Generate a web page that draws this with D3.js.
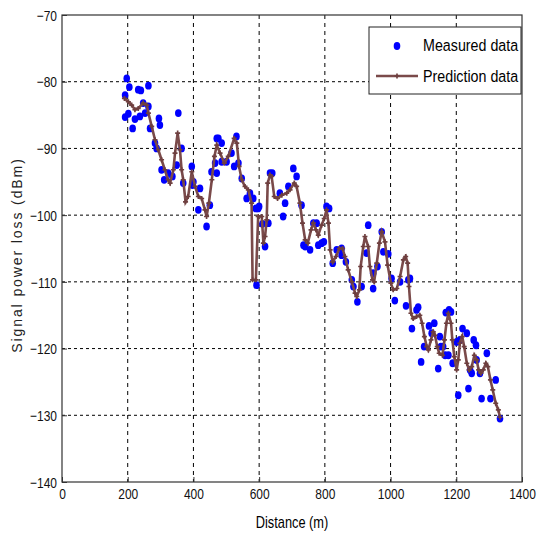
<!DOCTYPE html>
<html>
<head>
<meta charset="utf-8">
<script src="https://d3js.org/d3.v7.min.js"></script>
<style>
body { margin: 0; background: #fff; }
.tick text, .lbl { font-family: "Liberation Sans", Arial, sans-serif; }
</style>
</head>
<body>
<div id="mainer"></div>
<script>
let width = 541;
let height = 542;

let xTicks = [0, 200, 400, 600, 800, 1000, 1200, 1400];
let yTicks = [-70, -80, -90, -100, -110, -120, -130, -140];

let predDist = [190,202,212,222,232,247,258,263,273,283,293,303,313,323,329,339,344,352,359,364,369,376,384,395,405,415,425,435,440,447,456,464,471,481,494,506,524,532,539,547,557,567,577,580,590,597,608,613,618,623,626,633,638,646,656,669,684,694,707,714,724,732,740,748,758,765,773,780,790,798,805,811,816,824,834,844,854,861,871,882,892,897,905,909,917,922,932,937,945,950,958,966,973,983,991,1001,1008,1019,1029,1039,1046,1052,1056,1062,1069,1079,1089,1096,1103,1110,1115,1123,1130,1135,1142,1148,1158,1164,1170,1176,1184,1188,1194,1201,1206,1211,1218,1224,1232,1239,1247,1255,1262,1268,1275,1282,1290,1296,1304,1311,1320,1328,1333];
let predVal = [-82.5,-83.0,-83.5,-84.2,-84.0,-83.2,-83.5,-84.7,-86.7,-88.7,-90.2,-91.7,-93.2,-94.7,-95.2,-93.2,-90.7,-87.7,-90.2,-93.2,-94.7,-98.0,-97.2,-93.5,-95.7,-97.2,-97.5,-99.2,-100.2,-98.2,-94.7,-91.2,-89.5,-90.7,-92.2,-91.2,-88.5,-89.2,-92.7,-94.7,-95.7,-96.2,-98.2,-109.7,-109.7,-100.2,-100.2,-104.2,-103.2,-100.7,-95.2,-94.0,-94.2,-97.2,-97.5,-97.0,-96.7,-96.2,-95.2,-95.7,-98.2,-101.2,-103.7,-104.2,-102.2,-101.2,-102.2,-103.0,-101.5,-100.5,-99.2,-101.2,-105.2,-107.0,-106.2,-105.0,-105.0,-106.2,-108.2,-110.0,-111.7,-112.2,-111.2,-107.7,-104.7,-103.2,-104.7,-107.7,-109.7,-110.0,-107.2,-104.2,-102.5,-104.0,-107.5,-110.2,-111.2,-111.0,-109.2,-106.7,-106.2,-107.2,-110.7,-114.7,-115.5,-115.2,-115.0,-116.2,-118.2,-119.7,-120.2,-118.7,-117.5,-118.0,-119.7,-120.7,-121.0,-118.7,-116.2,-114.7,-116.2,-118.7,-121.2,-123.2,-121.7,-119.2,-118.2,-119.7,-122.2,-123.2,-122.7,-121.0,-121.7,-123.2,-123.7,-123.2,-122.2,-122.7,-124.7,-126.2,-128.2,-129.2,-130.3];

let measDist = [192,197,205,192,202,215,222,232,240,237,247,253,263,263,268,283,288,295,298,303,311,323,336,349,354,364,369,395,397,400,415,420,440,450,455,466,471,471,476,486,486,501,516,524,531,537,547,562,572,582,590,592,597,600,610,618,628,633,640,663,673,679,689,704,714,729,735,740,755,765,775,780,790,797,805,813,824,836,851,851,864,882,887,899,912,927,932,947,947,960,973,978,993,1003,1013,1029,1047,1054,1059,1065,1079,1084,1093,1102,1117,1125,1133,1145,1150,1153,1160,1166,1168,1176,1178,1184,1189,1201,1206,1211,1219,1232,1237,1242,1247,1253,1260,1262,1272,1277,1293,1304,1320,1333];
let measVal = [-82.0,-79.5,-80.8,-85.3,-84.8,-87.0,-85.6,-81.2,-81.3,-85.2,-83.2,-84.7,-80.6,-83.7,-87.0,-89.2,-90.0,-85.5,-86.5,-93.2,-94.7,-93.7,-94.2,-92.5,-84.7,-90.0,-95.2,-92.7,-95.5,-95.0,-99.2,-96.0,-101.7,-98.5,-93.5,-92.2,-88.5,-93.7,-88.5,-89.2,-92.0,-92.0,-90.7,-92.7,-88.2,-92.2,-94.5,-97.5,-96.7,-97.5,-99.0,-110.5,-99.0,-98.7,-101.3,-104.7,-101.2,-93.7,-93.7,-96.7,-100.2,-98.2,-95.7,-93.0,-94.2,-98.5,-104.5,-104.7,-105.2,-101.2,-101.2,-104.5,-104.2,-104.0,-98.7,-99.0,-107.2,-105.2,-105.0,-106.0,-107.0,-109.7,-110.7,-113.0,-110.7,-105.7,-101.5,-108.7,-111.0,-107.7,-102.5,-105.5,-105.8,-109.5,-112.8,-110.0,-113.6,-109.7,-109.5,-117.0,-114.2,-113.8,-122.0,-119.7,-116.6,-117.7,-116.2,-123.0,-118.2,-119.7,-119.7,-121.0,-114.6,-121.0,-114.2,-114.5,-122.2,-119.0,-127.0,-118.7,-117.0,-117.7,-126.0,-123.2,-123.7,-118.7,-119.5,-121.7,-123.7,-127.5,-120.7,-127.5,-124.7,-130.5];

let mLeft = 62, mRight = 522, mTop = 15, mBottom = 482;
let narrow = 0.8;

let svg = d3.select("#mainer")
  .append("svg")
  .attr("width", width)
  .attr("height", height)
  .style("background", "#fff");

let xScale = d3.scaleLinear().domain([0, 1400]).range([mLeft, mRight]);
let yScale = d3.scaleLinear().domain([-140, -70]).range([mBottom, mTop]);

// grid
svg.append("g").selectAll("line")
  .data(xTicks.slice(1, -1))
  .enter().append("line")
  .attr("x1", d => xScale(d)).attr("x2", d => xScale(d))
  .attr("y1", mTop).attr("y2", mBottom)
  .attr("stroke", "#000").attr("stroke-width", 1)
  .attr("stroke-dasharray", "4,4");
svg.append("g").selectAll("line")
  .data(yTicks.slice(1, -1))
  .enter().append("line")
  .attr("x1", mLeft).attr("x2", mRight)
  .attr("y1", d => yScale(d)).attr("y2", d => yScale(d))
  .attr("stroke", "#000").attr("stroke-width", 1)
  .attr("stroke-dasharray", "3,3");

// axes
let xAxis = d3.axisBottom(xScale).tickValues(xTicks).tickFormat(d3.format("d"))
  .tickSizeInner(-5).tickSizeOuter(0).tickPadding(9);
let yAxis = d3.axisLeft(yScale).tickValues(yTicks).tickFormat(d3.format("d"))
  .tickSizeInner(-5).tickSizeOuter(0).tickPadding(5);

let gx = svg.append("g").attr("transform", `translate(0,${mBottom})`).call(xAxis);
let gy = svg.append("g").attr("transform", `translate(${mLeft},0)`).call(yAxis);
[gx, gy].forEach(g => {
  g.select(".domain").remove();
  g.selectAll(".tick line").attr("stroke", "#333");
  g.selectAll(".tick text").attr("font-size", 15).attr("fill", "#111")
    .attr("transform", `scale(${narrow},1)`);
});
gx.selectAll(".tick text").attr("dy", "0.55em");
gy.selectAll(".tick text").attr("dy", "0.35em").attr("x", -5 / narrow);

svg.append("rect")
  .attr("x", mLeft).attr("y", mTop)
  .attr("width", mRight - mLeft).attr("height", mBottom - mTop)
  .attr("fill", "none").attr("stroke", "#333").attr("stroke-width", 1.2);

// measured data
svg.append("g").selectAll("ellipse")
  .data(measDist.map((d, i) => [d, measVal[i]]))
  .enter().append("ellipse")
  .attr("cx", d => xScale(d[0]))
  .attr("cy", d => yScale(d[1]))
  .attr("rx", 3.3).attr("ry", 3.9)
  .attr("fill", "#0000ff");

// prediction data
let pred = predDist.map((d, i) => [d, predVal[i]]);
let lineGenerator = d3.line()
  .x(d => xScale(d[0]))
  .y(d => yScale(d[1]));
svg.append("path")
  .attr("d", lineGenerator(pred))
  .attr("fill", "none")
  .attr("stroke", "#7a4a4a")
  .attr("stroke-width", 2.6);
svg.append("g").selectAll("path")
  .data(pred)
  .enter().append("path")
  .attr("d", d3.symbol().type(d3.symbolCross).size(14))
  .attr("transform", d => `translate(${xScale(d[0])},${yScale(d[1])})`)
  .attr("fill", "#6e3f3f");

// legend
let lg = svg.append("g");
lg.append("rect")
  .attr("x", 369).attr("y", 27).attr("width", 152).attr("height", 67)
  .attr("fill", "#fff").attr("stroke", "#222").attr("stroke-width", 1);
lg.append("ellipse").attr("cx", 397).attr("cy", 46).attr("rx", 3.3).attr("ry", 3.9).attr("fill", "#0000ff");
lg.append("line").attr("x1", 376).attr("x2", 418).attr("y1", 76).attr("y2", 76)
  .attr("stroke", "#7a4a4a").attr("stroke-width", 2.6);
lg.append("path").attr("d", d3.symbol().type(d3.symbolCross).size(14)).attr("transform", "translate(397,76)").attr("fill", "#6e3f3f");
lg.append("text").attr("class", "lbl").attr("transform", "translate(423,51) scale(0.84,1)")
  .attr("font-size", 17).text("Measured data");
lg.append("text").attr("class", "lbl").attr("transform", "translate(423,82) scale(0.84,1)")
  .attr("font-size", 17).text("Prediction data");

// axis labels
svg.append("text").attr("class", "lbl")
  .attr("transform", `translate(292,528) scale(${narrow},1)`)
  .attr("text-anchor", "middle").attr("font-size", 16)
  .text("Distance (m)");
svg.append("text")
  .attr("transform", "translate(22,255) rotate(-90)")
  .attr("text-anchor", "middle")
  .attr("font-family", "Liberation Sans, Arial, sans-serif")
  .attr("font-size", 14).attr("letter-spacing", 1.9)
  .attr("fill", "#222")
  .text("Signal power loss (dBm)");
</script>
</body>
</html>
